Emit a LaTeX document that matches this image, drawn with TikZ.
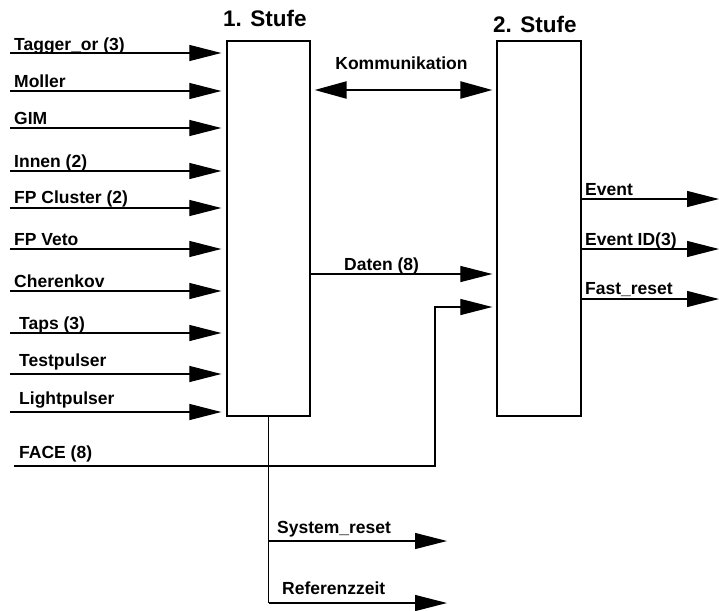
\documentclass[tikz,border=0pt]{standalone}
\usepackage{fontspec}
\setmainfont{Liberation Sans}
\usetikzlibrary{arrows.meta}
\begin{document}
\begin{tikzpicture}[x=1pt,y=-1pt,
  lbl/.style={font=\fontsize{17.5}{20}\selectfont\bfseries, inner sep=0pt, anchor=base west},
  ttl/.style={font=\fontsize{22.5}{26}\selectfont\bfseries, inner sep=0pt, anchor=base west},
  stage/.style={draw, line width=1.3pt, minimum width=83pt, minimum height=375pt, inner sep=0pt},
  tip/.style={Triangle[length=32pt,width=16pt]},
  sig/.style={line width=1.2pt, -{Triangle[length=32pt,width=16pt]}},
  wire/.style={line width=1.2pt}]
\useasboundingbox (0,0) rectangle (719,610);

% stages
\node[stage] (b1) at (268.5,228.5) {};
\node[stage, minimum width=84pt] (b2) at (539,228.5) {};
\node[ttl] (t1) at (223,27) {1. Stufe};
\node[ttl] (t2) at (493,33) {2. Stufe};

% inputs of stage 1
\foreach [count=\i] \y/\name/\lx/\ly in {
  53/Tagger\_or (3)/14/50,
  91/Moller/14/87,
  128/GIM/14/124,
  171/Innen (2)/14/167,
  208/FP Cluster (2)/14/203,
  249/FP Veto/14/245,
  291/Cherenkov/14/287,
  333/Taps (3)/19/329,
  374/Testpulser/19/366,
  412/Lightpulser/19/404}{
  \coordinate (in\i) at (10,\y);
  \node[lbl] (l\i) at (\lx,\ly) {\name};
  \draw[sig, shorten >=5pt] (in\i) -- (in\i -| b1.west);
}

% communication
\coordinate (ky) at (0,90);
\draw[line width=2.3pt, {Triangle[length=32pt,width=17pt]}-{Triangle[length=32pt,width=17pt]},
  shorten <=4pt, shorten >=4pt] (b1.east |- ky) -- (b2.west |- ky);
\node[lbl, anchor=base] (kl) at (401.5,70) {Kommunikation};

% data
\coordinate (dy) at (0,274);
\draw[sig, shorten >=4pt] (b1.east |- dy) -- (b2.west |- dy);
\node[lbl] (dl) at (344,270) {Daten (8)};

% FACE
\coordinate (face) at (14,466);
\coordinate (fc) at (435,466);
\coordinate (fy) at (0,307);
\draw[sig, shorten >=4pt] (face) -- (fc) |- (b2.west |- fy);
\node[lbl] (fl) at (19,458) {FACE (8)};

% outputs of stage 2
\foreach [count=\i] \y/\name/\ly in {
  199/Event/195,
  249/Event ID(3)/245,
  299/Fast\_reset/294}{
  \coordinate (out\i) at (719,\y);
  \node[lbl] (ol\i) at (585,\ly) {\name};
  \draw[sig] (out\i -| b2.east) -- (out\i);
}

% outputs of stage 1
\coordinate (sr) at (447,541);
\coordinate (rz) at (447,603);
\draw[wire] (b1.south) -- (b1.south |- rz);
\draw[sig] (sr -| b1.south) -- (sr);
\draw[sig] (rz -| b1.south) -- (rz);
\node[lbl] (srl) at (277,533) {System\_reset};
\node[lbl] (rzl) at (282,594) {Referenzzeit};
\end{tikzpicture}
\end{document}
